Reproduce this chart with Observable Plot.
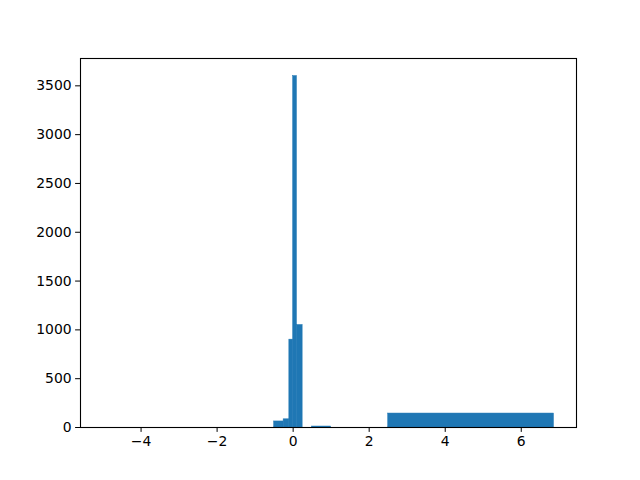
<!DOCTYPE html>
<html>
<head>
<meta charset="utf-8">
<script src="https://cdn.jsdelivr.net/npm/d3@7"></script>
<script src="https://cdn.jsdelivr.net/npm/@observablehq/plot@0.6"></script>
<style>
  body { margin: 0; background: #fff; }
  #chart svg { display: block; }
</style>
</head>
<body>
<div id="chart"></div>
<script>
// Histogram bin edges and counts
const binEdges = [-5, -0.5, -0.25, -0.1, 0, 0.1, 0.25, 0.5, 1, 2.5, 6.86];
const counts = [0, 62, 84, 900, 3600, 1050, 0, 10, 0, 143];
const xTicks = [-4, -2, 0, 2, 4, 6];
const yTicks = [0, 500, 1000, 1500, 2000, 2500, 3000, 3500];

const bins = counts.map((c, i) => ({x1: binEdges[i], x2: binEdges[i + 1], count: c}));

const lo = binEdges[0], hi = binEdges[binEdges.length - 1];
const pad = 0.05 * (hi - lo);
const yMax = d3.max(counts) * 1.05;

const chart = Plot.plot({
  width: 640,
  height: 480,
  marginLeft: 80,
  marginRight: 64,
  marginTop: 58,
  marginBottom: 53,
  style: {fontFamily: "DejaVu Sans", fontSize: "13.9px", color: "#000", background: "#fff"},
  x: {domain: [lo - pad, hi + pad], ticks: xTicks, tickSize: 4.9, tickPadding: 4, label: null, tickFormat: d3.format("")},
  y: {domain: [0, yMax], ticks: yTicks, tickSize: 4.9, tickPadding: 4, label: null, tickFormat: d3.format("")},
  marks: [
    Plot.rectY(bins.filter(d => d.count > 0), {x1: "x1", x2: "x2", y: "count", fill: "#1f77b4", stroke: "#1f77b4", strokeWidth: 0.5, inset: 0}),
    Plot.frame({stroke: "#000", strokeWidth: 1.1})
  ]
});
document.getElementById("chart").appendChild(chart);
</script>
</body>
</html>
